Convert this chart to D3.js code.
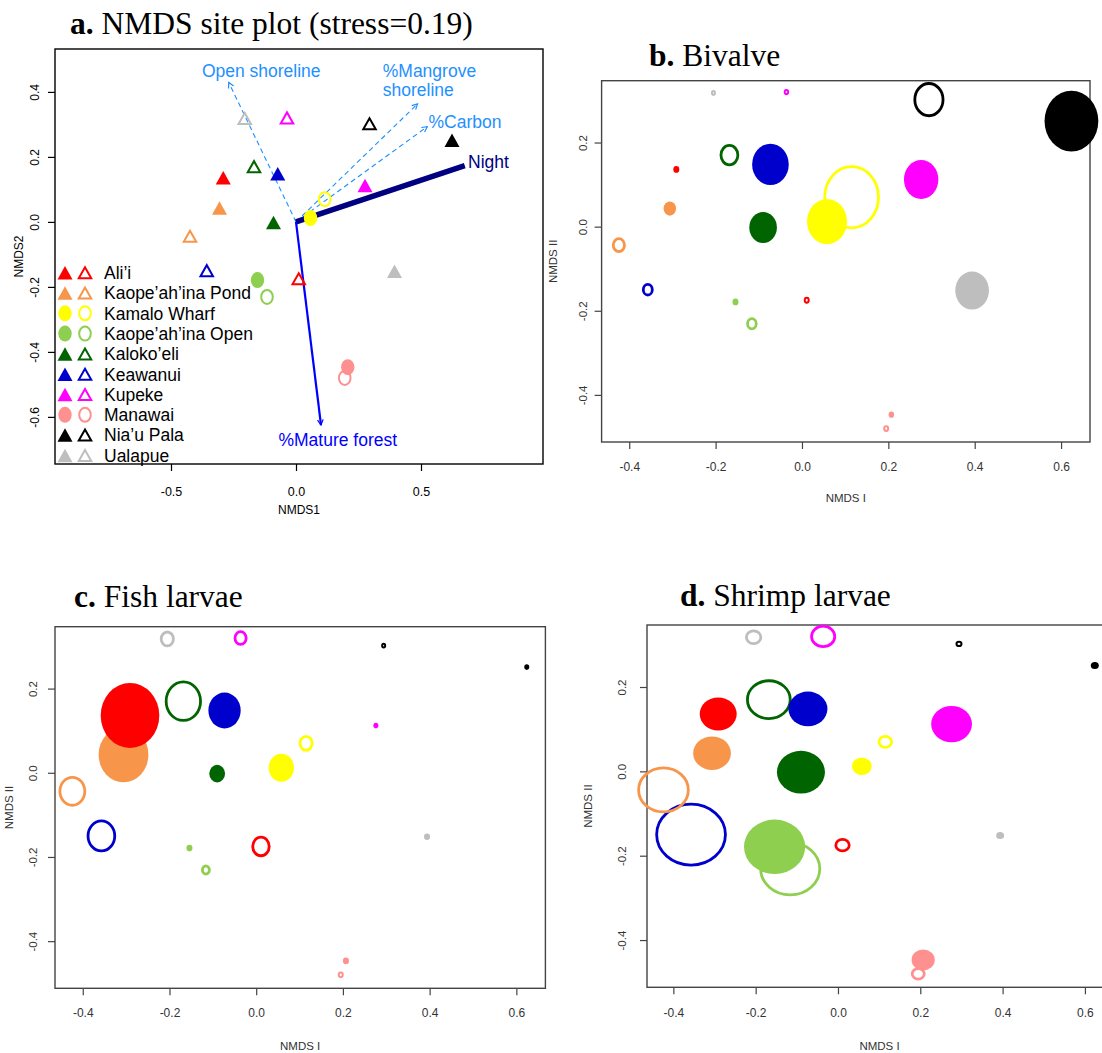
<!DOCTYPE html>
<html><head><meta charset="utf-8">
<script src="https://cdn.jsdelivr.net/npm/d3@7"></script>
<style>body{margin:0;background:#fff}</style>
</head><body><svg id="chart" width="1102" height="1053"></svg>
<script>
// ---------------- DATA ----------------
const sites = ["Ali’i","Kaope’ah’ina Pond","Kamalo Wharf","Kaope’ah’ina Open","Kaloko’eli","Keawanui","Kupeke","Manawai","Nia’u Pala","Ualapue"];
const siteColors = ["#FF0000","#F7964A","#FFFF00","#8FCF4F","#006400","#0000CD","#FF00FF","#FF9090","#000000","#BEBEBE"];
const siteShapes = ["triangle","triangle","circle","circle","triangle","triangle","triangle","circle","triangle","triangle"];
// NMDS site scores: filled-symbol samples and open-symbol samples
const filledNMDS1 = [-0.291,-0.306,0.058,-0.154,-0.090,-0.073,0.276,0.207,0.624,0.394];
const filledNMDS2 = [0.136,0.043,0.012,-0.179,-0.002,0.148,0.112,-0.447,0.251,-0.152];
const openNMDS1   = [0.011,-0.424,0.115,-0.116,-0.168,-0.357,-0.036,0.195,0.294,-0.205];
const openNMDS2   = [-0.175,-0.044,0.070,-0.231,0.170,-0.150,0.320,-0.480,0.302,0.318];
// Environmental vectors (envfit)
const vectorNames = ["Open shoreline","%Mangrove shoreline","%Carbon","Night","%Mature forest"];
const vectorX = [-0.269,0.486,0.525,0.675,0.100];
const vectorY = [0.429,0.363,0.293,0.173,-0.625];
// Bubble sizes (relative abundance index) per taxon
const bivalveFilled = [6,12.5,40,6,27.6,36.6,34.4,5.5,53.8,33.7];
const bivalveOpen   = [6,14,56.6,11.5,19.7,11.8,5.5,6,31,5];
const fishFilled    = [58.6,49.8,25.3,6,15.8,32.3,5,6,5,6];
const fishOpen      = [19.3,27.7,15,9.8,37.2,29.5,14,6,5,15];
const shrimpFilled  = [37,37.7,19.7,61.2,48,39,40.8,23.2,8,8];
const shrimpOpen    = [16.2,52.5,15.5,61.9,45.6,71.6,26,14.9,7,17.3];
// Tick labels
const ticksAX = [-0.5,0,0.5];
const ticksAY = [-0.6,-0.4,-0.2,0,0.2,0.4];
const ticksBX = [-0.4,-0.2,0,0.2,0.4,0.6];
const ticksBY = [-0.4,-0.2,0,0.2];

// ---------------- DRAWING ----------------
const svg = d3.select("#chart");
const SANS = "'Liberation Sans', Arial, sans-serif";
const SERIF = "'Liberation Serif', 'Times New Roman', serif";
const fmt = d => d.toFixed(1);

function makePanel(cfg) {
  const x = d3.scaleLinear().domain(cfg.xDom).range([cfg.left, cfg.right]);
  const y = d3.scaleLinear().domain(cfg.yDom).range([cfg.bottom, cfg.top]);
  const g = svg.append("g");
  // x axis
  const ax = g.append("g").attr("transform", `translate(0,${cfg.bottom})`)
    .call(d3.axisBottom(x).tickValues(cfg.ticksX).tickFormat(fmt).tickSize(7).tickSizeOuter(0));
  ax.select(".domain").remove();
  ax.selectAll("line").attr("stroke", cfg.axisColor).attr("stroke-width", 1.2);
  ax.selectAll("text").attr("y", cfg.xLabOff).attr("dy", "0.35em")
    .attr("font-family", SANS).attr("font-size", cfg.tickFont).attr("fill", cfg.textColor);
  // y axis
  const ay = g.append("g").attr("transform", `translate(${cfg.left},0)`)
    .call(d3.axisLeft(y).tickValues(cfg.ticksY).tickFormat(fmt).tickSize(7).tickSizeOuter(0));
  ay.select(".domain").remove();
  ay.selectAll("line").attr("stroke", cfg.axisColor).attr("stroke-width", 1.2);
  ay.selectAll("text").attr("x", 0).attr("y", 0).attr("dy", "0.35em")
    .attr("text-anchor", "middle")
    .attr("transform", `translate(${-cfg.yLabOff},0) rotate(-90)`)
    .attr("font-family", SANS).attr("font-size", cfg.tickFontY).attr("fill", cfg.textColor);
  // box
  g.append("rect").attr("x", cfg.left).attr("y", cfg.top)
    .attr("width", cfg.right - cfg.left).attr("height", cfg.bottom - cfg.top)
    .attr("fill", "none").attr("stroke", cfg.axisColor).attr("stroke-width", 1.4);
  // axis titles
  g.append("text").attr("x", (cfg.left + Math.min(cfg.right, 1112)) / 2).attr("y", cfg.xTitleY)
    .attr("dy", "0.35em").attr("text-anchor", "middle")
    .attr("font-family", SANS).attr("font-size", cfg.titleFont).attr("fill", cfg.textColor).text(cfg.xTitle);
  g.append("text").attr("transform", `translate(${cfg.yTitleX},${(cfg.top + cfg.bottom) / 2}) rotate(-90)`)
    .attr("dy", "0.35em").attr("text-anchor", "middle")
    .attr("font-family", SANS).attr("font-size", cfg.titleFont).attr("fill", cfg.textColor).text(cfg.yTitle);
  // panel title
  const t = svg.append("text").attr("x", cfg.headX).attr("y", cfg.headY)
    .attr("font-family", SERIF).attr("font-size", 31.5).attr("fill", "#000");
  t.append("tspan").attr("font-weight", "bold").text(cfg.headLetter);
  t.append("tspan").text(" " + cfg.headText);
  return {x, y, g};
}

// ---------- Panel a ----------
const pa = makePanel({
  left: 55, right: 543, top: 49, bottom: 464,
  xDom: [-0.964, 0.988], yDom: [-0.745, 0.532],
  ticksX: ticksAX, ticksY: ticksAY, axisColor: "#000", textColor: "#000",
  tickFont: 12.5, tickFontY: 12, titleFont: 12, xLabOff: 28, yLabOff: 20,
  xTitle: "NMDS1", yTitle: "NMDS2", xTitleY: 510, yTitleX: 19,
  headX: 70, headY: 34, headLetter: "a.", headText: "NMDS site plot (stress=0.19)"
});

// vectors
const vecStyles = [
  {color: "#1E90FF", width: 1.1, dash: "5,3.5", head: true, lab: [-0.139, 0.465], anchor: "middle", tcol: "#1E90FF"},
  {color: "#1E90FF", width: 1.1, dash: "5,3.5", head: true, lab: [0.347, 0.466], anchor: "start", tcol: "#1E90FF"},
  {color: "#1E90FF", width: 1.1, dash: "5,3.5", head: true, lab: [0.530, 0.307], anchor: "start", tcol: "#1E90FF"},
  {color: "#000080", width: 5.5, dash: null, head: false, lab: [0.688, 0.184], anchor: "start", tcol: "#000080"},
  {color: "#0000FF", width: 2.2, dash: null, head: true, lab: [0.167, -0.671], anchor: "middle", tcol: "#0000FF"}
];
const ox = pa.x(0), oy = pa.y(0);
vectorNames.forEach((name, i) => {
  const s = vecStyles[i];
  const tx = pa.x(vectorX[i]), ty = pa.y(vectorY[i]);
  const ln = pa.g.append("line").attr("x1", ox).attr("y1", oy).attr("x2", tx).attr("y2", ty)
    .attr("stroke", s.color).attr("stroke-width", s.width);
  if (s.dash) ln.attr("stroke-dasharray", s.dash);
  if (s.head) {
    const th = Math.atan2(ty - oy, tx - ox), L = 6, a = 28 * Math.PI / 180;
    const p1 = [tx - L * Math.cos(th - a), ty - L * Math.sin(th - a)];
    const p2 = [tx - L * Math.cos(th + a), ty - L * Math.sin(th + a)];
    pa.g.append("path").attr("d", `M${p1[0]},${p1[1]}L${tx},${ty}L${p2[0]},${p2[1]}`)
      .attr("fill", "none").attr("stroke", s.color).attr("stroke-width", 1.2);
  }
  const lines = name === "%Mangrove shoreline" ? ["%Mangrove", "shoreline"] : [name];
  lines.forEach((l, k) => {
    pa.g.append("text").attr("x", pa.x(s.lab[0])).attr("y", pa.y(s.lab[1]) + k * 19.5)
      .attr("dy", "0.35em").attr("text-anchor", s.anchor)
      .attr("font-family", SANS).attr("font-size", 17.5).attr("fill", s.tcol).text(l);
  });
});

function drawSymbol(g, cx, cy, i, filled) {
  const col = siteColors[i];
  if (siteShapes[i] === "triangle") {
    const w = filled ? 15 : 12.5, h = filled ? 13.5 : 11;
    g.append("path")
      .attr("d", `M${cx - w / 2},${cy + h / 2}L${cx + w / 2},${cy + h / 2}L${cx},${cy - h / 2}Z`)
      .attr("fill", filled ? col : "none").attr("stroke", filled ? "none" : col)
      .attr("stroke-width", 2).attr("stroke-linejoin", "miter");
  } else {
    g.append("ellipse").attr("cx", cx).attr("cy", cy)
      .attr("rx", filled ? 6.7 : 5.8).attr("ry", filled ? 8 : 7)
      .attr("fill", filled ? col : "none").attr("stroke", filled ? "none" : col).attr("stroke-width", 2);
  }
}
sites.forEach((s, i) => drawSymbol(pa.g, pa.x(openNMDS1[i]), pa.y(openNMDS2[i]), i, false));
sites.forEach((s, i) => drawSymbol(pa.g, pa.x(filledNMDS1[i]), pa.y(filledNMDS2[i]), i, true));

// legend
sites.forEach((s, i) => {
  const yy = 272.7 + i * 20.3;
  drawSymbol(pa.g, 65, yy, i, true);
  drawSymbol(pa.g, 85, yy, i, false);
  pa.g.append("text").attr("x", 104).attr("y", yy).attr("dy", "0.36em")
    .attr("font-family", SANS).attr("font-size", 17.5).attr("fill", "#000").text(s);
});

// ---------- Bubble panels ----------
const rScale = d3.scaleLinear().domain([0, 100]).range([0, 50]);
function bubblePanel(cfg, filledSizes, openSizes, aspect) {
  const p = makePanel(Object.assign({
    xDom: [-0.464, 0.667], yDom: [-0.512, 0.347],
    ticksX: ticksBX, ticksY: ticksBY, axisColor: "#444", textColor: "#333",
    tickFont: 12, tickFontY: 11.5, titleFont: 11.5,
    xTitle: "NMDS I", yTitle: "NMDS II"
  }, cfg));
  const order = d3.range(sites.length).reverse();
  order.forEach(i => {
    const size = openSizes[i], sw = size < 9 ? 2 : 2.8;
    p.g.append("ellipse").attr("cx", p.x(openNMDS1[i])).attr("cy", p.y(openNMDS2[i]))
      .attr("rx", Math.max(rScale(size) - sw / 2, 0.8))
      .attr("ry", Math.max(rScale(size) * aspect - sw / 2, 0.8))
      .attr("fill", "none").attr("stroke", siteColors[i]).attr("stroke-width", sw);
  });
  order.forEach(i => {
    const size = filledSizes[i];
    p.g.append("ellipse").attr("cx", p.x(filledNMDS1[i])).attr("cy", p.y(filledNMDS2[i]))
      .attr("rx", rScale(size)).attr("ry", rScale(size) * aspect)
      .attr("fill", siteColors[i]);
  });
}

bubblePanel({left: 601.6, right: 1090, top: 80.7, bottom: 442,
  xLabOff: 24.7, yLabOff: 19, xTitleY: 498, yTitleX: 553,
  headX: 649, headY: 66, headLetter: "b.", headText: "Bivalve"}, bivalveFilled, bivalveOpen, 1.13);
bubblePanel({left: 55, right: 545.4, top: 626.7, bottom: 988.3,
  xLabOff: 25, yLabOff: 21.7, xTitleY: 1046, yTitleX: 9,
  headX: 74, headY: 607, headLetter: "c.", headText: "Fish larvae"}, fishFilled, fishOpen, 1.11);
bubblePanel({left: 647, right: 1112.5, top: 625, bottom: 987.3,
  xLabOff: 26, yLabOff: 25, xTitleY: 1046, yTitleX: 588,
  headX: 680, headY: 606, headLetter: "d.", headText: "Shrimp larvae"}, shrimpFilled, shrimpOpen, 0.89);
</script>
</body></html>
